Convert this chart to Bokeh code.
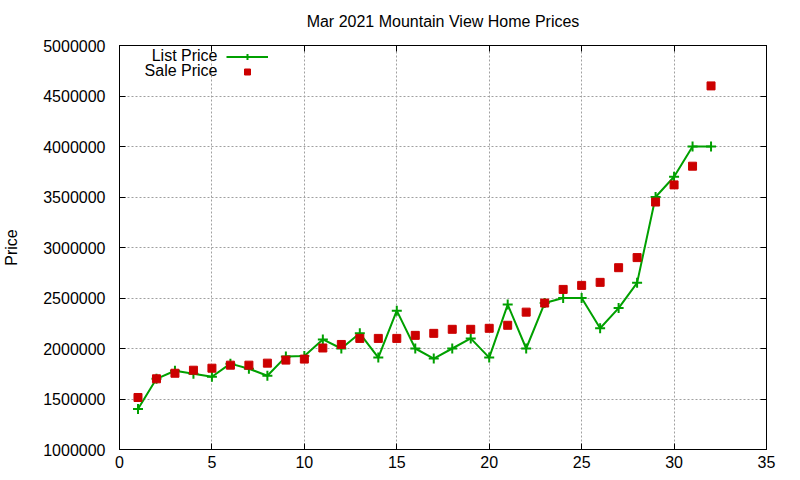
from bokeh.plotting import figure
from bokeh.models import (LinearAxis, SingleIntervalTicker, BasicTickFormatter,
                          Legend, LegendItem, Range1d, ColumnDataSource, Label)
from bokeh.embed import file_html
from bokeh.resources import INLINE

title_text = "Mar 2021 Mountain View Home Prices"
y_label = "Price"
series_names = ["List Price", "Sale Price"]

days = list(range(1, 33))
list_price = [1400000, 1700000, 1780000, 1750000, 1720000, 1850000, 1800000, 1730000,
              1920000, 1925000, 2090000, 2000000, 2150000, 1910000, 2375000, 2000000,
              1900000, 2000000, 2100000, 1910000, 2435000, 2000000, 2450000, 2500000,
              2500000, 2200000, 2400000, 2650000, 3500000, 3700000, 4000000, 4000000]
sale_price = [1515000, 1700000, 1755000, 1785000, 1805000, 1835000, 1835000, 1855000,
              1885000, 1895000, 2005000, 2040000, 2100000, 2100000, 2100000, 2130000,
              2150000, 2190000, 2190000, 2200000, 2230000, 2360000, 2450000, 2585000,
              2625000, 2655000, 2800000, 2900000, 3450000, 3620000, 3805000, 4600000]

x_min, x_max, x_step = 0, 35, 5
y_min, y_max, y_step = 1000000, 5000000, 500000

FONT = "Liberation Sans"
GREEN = "#00a000"
RED = "#cc0000"

src = ColumnDataSource(dict(x=days, lp=list_price, sp=sale_price))

p = figure(frame_width=647, frame_height=404,
           min_border_left=110, min_border_right=27, min_border_top=45, min_border_bottom=23,
           x_range=Range1d(x_min, x_max), y_range=Range1d(y_min, y_max),
           output_backend="svg", toolbar_location=None, title=title_text)

p.background_fill_color = "white"
p.border_fill_color = "white"
p.outline_line_color = "black"
p.outline_line_width = 1

p.title.align = "center"
p.title.vertical_align = "top"
p.title.text_font = FONT
p.title.text_font_size = "16px"
p.title.text_font_style = "normal"
p.title.text_color = "black"
p.title.standoff = 20

xt = SingleIntervalTicker(interval=x_step)
yt = SingleIntervalTicker(interval=y_step)

for ax in p.xaxis:
    ax.ticker = xt
for ax in p.yaxis:
    ax.ticker = yt
    ax.formatter = BasicTickFormatter(use_scientific=False)
    ax.axis_label = y_label
    ax.axis_label_text_font = FONT
    ax.axis_label_text_font_size = "16px"
    ax.axis_label_text_font_style = "normal"
    ax.axis_label_text_color = "black"
    ax.axis_label_standoff = 20

for ax in list(p.xaxis) + list(p.yaxis):
    ax.major_tick_in = 6
    ax.major_tick_out = 0
    ax.minor_tick_line_color = None
    ax.major_label_text_font = FONT
    ax.major_label_text_font_size = "16px"
    ax.major_label_text_color = "black"
    ax.axis_line_color = "black"
    ax.major_tick_line_color = "black"
p.yaxis.major_label_standoff = 10
p.xaxis.major_label_standoff = 2

# mirrored tick marks on top and right (no labels)
top_ax = LinearAxis(ticker=SingleIntervalTicker(interval=x_step),
                    major_label_text_font_size="1px", major_label_text_color=None,
                    major_tick_in=6, major_tick_out=0, minor_tick_line_color=None,
                    major_label_standoff=0)
right_ax = LinearAxis(ticker=SingleIntervalTicker(interval=y_step),
                      major_label_text_font_size="1px", major_label_text_color=None,
                      major_tick_in=6, major_tick_out=0, minor_tick_line_color=None,
                      major_label_standoff=0)
p.add_layout(top_ax, "above")
p.add_layout(right_ax, "right")

for g in (p.xgrid, p.ygrid):
    g.grid_line_color = "#a0a0a0"
    g.grid_line_dash = "2 2"
    g.grid_line_width = 1
p.xgrid.ticker = xt
p.ygrid.ticker = yt

line_r = p.line("x", "lp", source=src, line_color=GREEN, line_width=2)
cross_r = p.scatter("x", "lp", source=src, marker="cross", size=10, line_color=GREEN, line_width=2)
sq_r = p.scatter("x", "sp", source=src, marker="square", size=8, fill_color=RED, line_color=RED)

# legend samples (gnuplot style: text on the left, sample on the right)
legend = Legend(items=[LegendItem(label=series_names[0], renderers=[line_r, cross_r]),
                       LegendItem(label=series_names[1], renderers=[sq_r])],
                location=(107, 370), glyph_width=42, glyph_height=15, label_height=15,
                label_text_font_size="10px", label_text_color=None,
                padding=0, spacing=0, margin=0,
                border_line_color=None, background_fill_alpha=0)
p.add_layout(legend)

for i, name in enumerate(series_names):
    p.add_layout(Label(x=98, y=394 - 15 * i, x_units="screen", y_units="screen", text=name,
                       text_align="right", text_baseline="middle", text_font=FONT,
                       text_font_size="16px", text_color="black"))

open("out.html", "w").write(file_html(p, INLINE))
